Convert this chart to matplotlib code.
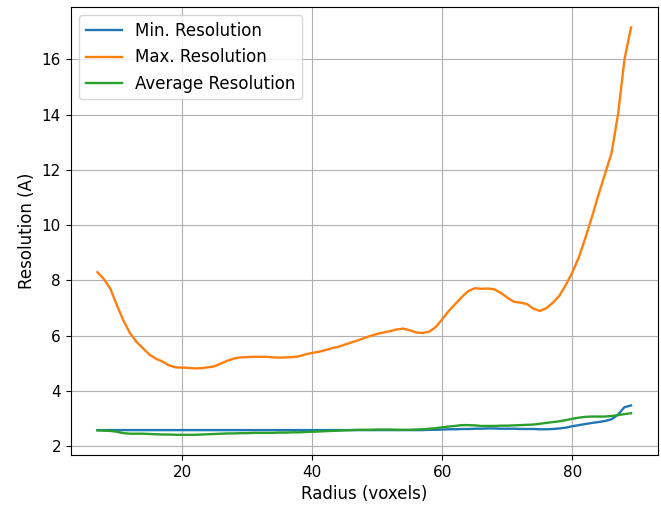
import numpy as np
import matplotlib
matplotlib.use("Agg")
import matplotlib.pyplot as plt

plt.rcParams.update({
    "xtick.labelsize": 11,
    "ytick.labelsize": 11,
    "axes.labelsize": 12,
})

radius = np.arange(7, 90)

max_res = [8.30, 8.05, 7.70, 7.10, 6.55, 6.10, 5.78, 5.55, 5.32, 5.17,
           5.07, 4.93, 4.86, 4.85, 4.84, 4.82, 4.83, 4.86, 4.90, 5.00,
           5.10, 5.18, 5.22, 5.23, 5.24, 5.24, 5.24, 5.22, 5.21, 5.22,
           5.23, 5.26, 5.33, 5.38, 5.42, 5.48, 5.55, 5.60, 5.68, 5.76,
           5.83, 5.92, 6.00, 6.07, 6.12, 6.17, 6.23, 6.26, 6.20, 6.12,
           6.10, 6.15, 6.32, 6.60, 6.90, 7.15, 7.40, 7.62, 7.72, 7.70,
           7.71, 7.68, 7.55, 7.38, 7.23, 7.20, 7.15, 6.98, 6.90, 7.00,
           7.20, 7.45, 7.85, 8.30, 8.85, 9.55, 10.30, 11.10, 11.85, 12.60,
           14.00, 16.00, 17.15]

min_res = [2.59, 2.59, 2.59, 2.59, 2.59, 2.59, 2.59, 2.59, 2.59, 2.59,
           2.59, 2.59, 2.59, 2.59, 2.59, 2.59, 2.59, 2.59, 2.59, 2.59,
           2.59, 2.59, 2.59, 2.59, 2.59, 2.59, 2.59, 2.59, 2.59, 2.59,
           2.59, 2.59, 2.59, 2.59, 2.59, 2.59, 2.59, 2.59, 2.59, 2.59,
           2.59, 2.59, 2.59, 2.59, 2.59, 2.59, 2.59, 2.59, 2.59, 2.59,
           2.59, 2.60, 2.60, 2.61, 2.62, 2.62, 2.63, 2.63, 2.64, 2.64,
           2.65, 2.65, 2.64, 2.64, 2.64, 2.63, 2.63, 2.63, 2.62, 2.62,
           2.63, 2.65, 2.68, 2.73, 2.77, 2.81, 2.85, 2.88, 2.92, 2.98,
           3.15, 3.42, 3.48]

avg_res = [2.58, 2.57, 2.56, 2.53, 2.48, 2.46, 2.46, 2.46, 2.45, 2.44,
           2.43, 2.43, 2.42, 2.42, 2.42, 2.42, 2.43, 2.44, 2.45, 2.46,
           2.47, 2.47, 2.48, 2.48, 2.49, 2.49, 2.49, 2.49, 2.50, 2.50,
           2.51, 2.51, 2.52, 2.53, 2.54, 2.55, 2.56, 2.57, 2.58, 2.59,
           2.60, 2.60, 2.60, 2.61, 2.61, 2.61, 2.60, 2.60, 2.60, 2.61,
           2.62, 2.64, 2.66, 2.69, 2.72, 2.74, 2.77, 2.77, 2.76, 2.74,
           2.74, 2.74, 2.75, 2.75, 2.76, 2.77, 2.78, 2.79, 2.82, 2.85,
           2.88, 2.91, 2.95, 3.00, 3.04, 3.07, 3.08, 3.08, 3.08, 3.10,
           3.13, 3.17, 3.20]

fig, ax = plt.subplots(figsize=(6.61, 5.08), dpi=100)
fig.subplots_adjust(left=0.107, right=0.995, top=0.986, bottom=0.104)

ax.plot(radius, min_res, label="Min. Resolution", linewidth=1.7)
ax.plot(radius, max_res, label="Max. Resolution", linewidth=1.7)
ax.plot(radius, avg_res, label="Average Resolution", linewidth=1.7)
ax.set_xlabel("Radius (voxels)")
ax.set_ylabel("Resolution (A)")
ax.grid(True)
ax.legend(loc="upper left", fontsize=12, handlelength=2.15)

fig.savefig("out.png")
